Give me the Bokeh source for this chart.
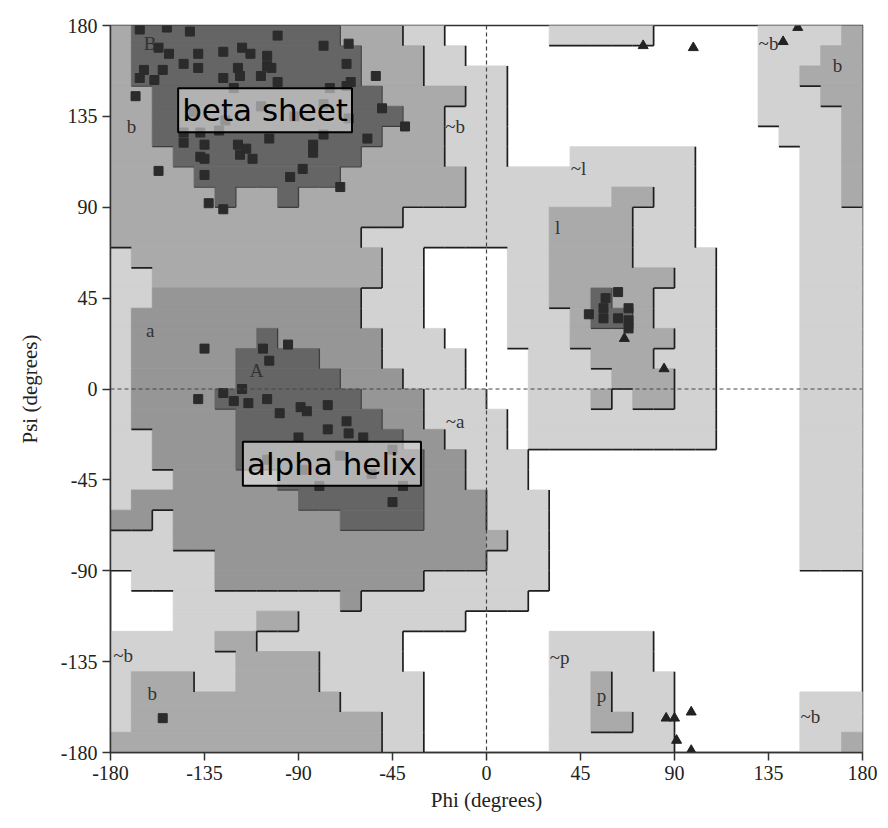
from bokeh.plotting import figure
from bokeh.models import ColumnDataSource, FixedTicker, Range1d, Span, Label
from bokeh.embed import file_html
from bokeh.resources import INLINE
from bokeh.core.properties import value

# ---------------- data ----------------
TICKS = [-180, -135, -90, -45, 0, 45, 90, 135, 180]
TICK_LABELS = ["-180", "-135", "-90", "-45", "0", "45", "90", "135", "180"]
CELL = 10  # grid cell size in degrees

# Region map, 10-degree cells, rows from psi 180 (top) down to psi -180,
# columns from phi -180 to 180. Run-length coded "level:count".
# 0 = disallowed, 1 = generously allowed (~a ~b ~l ~p), 2 = allowed (a b l p), 3 = core (A B L)
REGION_ROWS = [
    "2:1 3:10 2:3 1:2 0:5 1:5 0:5 1:4 2:1",
    "2:1 3:11 2:3 1:2 0:14 1:3 2:2",
    "2:1 3:11 2:3 1:4 0:12 1:2 2:3",
    "2:2 3:11 2:4 1:2 0:12 1:3 2:2",
    "2:2 3:12 2:2 1:3 0:12 1:4 2:1",
    "2:2 3:11 2:3 1:3 0:13 1:3 2:1",
    "2:3 3:9 2:4 1:3 0:3 1:6 0:5 1:2 2:1",
    "2:4 3:7 2:6 1:11 0:5 1:2 2:1",
    "2:5 3:1 2:2 3:1 2:8 1:7 2:2 1:2 0:5 1:2 2:1",
    "2:14 1:7 2:4 1:3 0:5 1:3",
    "2:12 1:9 2:4 1:3 0:5 1:3",
    "1:1 2:12 1:2 0:4 1:2 2:4 1:4 0:4 1:3",
    "1:2 2:11 1:2 0:4 1:2 2:6 1:2 0:4 1:3",
    "1:2 2:10 1:3 0:4 1:2 2:2 3:1 2:2 1:3 0:4 1:3",
    "1:1 2:11 1:3 0:4 1:3 2:1 3:2 2:1 1:3 0:4 1:3",
    "1:1 2:6 3:1 2:5 1:3 0:3 1:3 2:5 1:2 0:4 1:3",
    "1:1 2:5 3:4 2:3 1:4 0:3 1:3 2:3 1:3 0:4 1:3",
    "1:1 2:5 3:5 2:3 1:3 0:3 1:4 2:3 1:2 0:4 1:3",
    "1:1 2:4 3:7 2:3 1:3 0:2 1:3 2:1 1:1 2:2 1:2 0:4 1:3",
    "1:1 2:5 3:7 2:2 1:4 0:1 1:9 0:4 1:3",
    "1:2 2:4 3:8 2:2 1:3 0:1 1:9 0:4 1:3",
    "1:2 2:4 3:9 2:2 1:3 0:13 1:3",
    "1:3 2:5 3:7 2:2 1:3 0:13 1:3",
    "1:1 2:8 3:6 2:3 1:3 0:12 1:3",
    "2:2 1:1 2:8 3:4 2:3 1:3 0:12 1:3",
    "1:3 2:16 1:2 0:12 1:3",
    "1:5 2:13 1:3 0:12 1:3",
    "0:1 1:4 2:10 1:6 0:15",
    "0:3 1:8 2:1 1:8 0:16",
    "0:3 1:4 2:2 1:8 0:19",
    "1:5 2:2 1:7 0:7 1:5 0:10",
    "1:6 2:4 1:4 0:7 1:5 0:10",
    "1:1 2:3 1:2 2:4 1:5 0:6 1:2 2:1 1:3 0:9",
    "1:1 2:10 1:4 0:6 1:2 2:1 1:3 0:6 1:3",
    "1:1 2:12 1:2 0:6 1:2 2:2 1:2 0:6 1:3",
    "2:13 1:2 0:6 1:6 0:6 1:2 2:1",
]

# residues (non-glycine) - squares
RES_PHI = [-166, -153, -142, -100, -78, -66, -157, -152, -138, -126, -117, -113, -105,
           -164, -155, -145, -138, -119, -105, -67, -166, -159, -126, -118, -108, -103,
           -65, -53, -75, -67, -168, -100, -121, -50, -145, -137, -128, -78, -145, -135,
           -119, -104, -83, -57, -137, -118, -112, -83, -157, -135, -94, -88, -70, -133,
           -126, -135, -115, -39,
           -140, -125, -108, -92, -78, -66,
           -135, -107, -95, -104, -117, -138, -126, -121, -114, -105, -99, -89, -86, -76,
           -67, -76, -66, -90, -59, -80, -40, -45,
           -105, -88, -70, -55, -45,
           63, 49, 56, 56, 63, 68, 68, 68, 57,
           -155]
RES_PSI = [178, 179, 177, 175, 170, 171, 169, 166, 166, 167, 169, 166, 165,
           158, 158, 161, 159, 159, 160, 161, 154, 153, 154, 155, 155, 159,
           152, 155, 149, 150, 145, 152, 149, 139, 127, 127, 128, 126, 122, 121,
           121, 124, 121, 124, 115, 116, 114, 117, 108, 106, 105, 109, 100, 92,
           89, 114, 119, 130,
           137, 133, 140, 135, 141, 134,
           20, 20, 22, 14, 0, -5, -2, -6, -7, -5, -12, -9, -11, -8,
           -16, -20, -22, -24, -24, -48, -48, -56,
           -35, -40, -33, -42, -30,
           48, 37, 40, 35, 35, 40, 34, 30, 45,
           -163]

# glycines - triangles
GLY_PHI = [75, 99, 142, 149, 66, 85, 86, 90, 98, 91, 98]
GLY_PSI = [170, 169, 172, 179, 25, 10, -163, -163, -160, -174, -179]

# region letters
REG_TEXT = ["B", "b", "~b", "a", "A", "~a", "~l", "l", "~b", "b", "~b", "b", "~p", "p", "~b"]
REG_PHI = [-161, -170, -15, -161, -110, -15, 44, 34, 135, 168, -174, -160, 35, 55, 155]
REG_PSI = [171, 130, 130, 29, 9, -16, 109, 80, 171, 160, -132, -151, -133, -152, -162]

# call-out boxes
NOTE_TEXT = ["beta sheet", "alpha helix"]
NOTE_PHI = [-106, -74]
NOTE_PSI = [138, -37]

# ---------------- build ----------------
def expand(row):
    out = []
    for tok in row.split():
        lv, n = tok.split(":")
        out += [int(lv)] * int(n)
    return (out + [0] * 36)[:36]

grid = [expand(r) for r in REGION_ROWS]
NR, NC = len(grid), 36


def cell_color(level, i, j):
    if level == 1:
        return "#d2d2d2"
    if level == 3:
        return "#656565"
    psi_top = 180 - CELL * i
    phi_left = -180 + CELL * j
    if phi_left < 0 and psi_top <= 50 and psi_top - CELL >= -110:
        return "#969696"
    return "#aaaaaa"


ql, qr, qt, qb, qc = [], [], [], [], []
for i, row in enumerate(grid):
    j = 0
    while j < NC:
        lv = row[j]
        if lv == 0:
            j += 1
            continue
        c = cell_color(lv, i, j)
        k = j
        while k + 1 < NC and row[k + 1] == lv and cell_color(lv, i, k + 1) == c:
            k += 1
        ql.append(-180 + CELL * j)
        qr.append(-180 + CELL * (k + 1))
        qt.append(180 - CELL * i)
        qb.append(180 - CELL * (i + 1))
        qc.append(c)
        j = k + 1

# shadow edges: right and bottom borders against lower levels
edges = {1: ([], [], [], []), 2: ([], [], [], []), 3: ([], [], [], [])}
for i in range(NR):
    for j in range(NC):
        lv = grid[i][j]
        if lv == 0:
            continue
        left = -180 + CELL * j
        right = left + CELL
        top = 180 - CELL * i
        bottom = top - CELL
        e = edges[lv]
        if j + 1 < NC and grid[i][j + 1] < lv:
            e[0].append(right); e[1].append(bottom); e[2].append(right); e[3].append(top)
        if i + 1 < NR and grid[i + 1][j] < lv:
            e[0].append(left); e[1].append(bottom); e[2].append(right); e[3].append(bottom)

p = figure(width=888, height=828,
           x_range=Range1d(-180, 180), y_range=Range1d(-180, 180),
           output_backend="svg", toolbar_location=None,
           min_border_left=110, min_border_right=26,
           min_border_top=25, min_border_bottom=76)
p.xgrid.visible = False
p.ygrid.visible = False
p.background_fill_color = "white"
p.border_fill_color = "white"
p.outline_line_color = "#333333"
p.outline_line_width = 1.5

p.quad(left=ql, right=qr, top=qt, bottom=qb, fill_color=qc,
       line_color=qc, line_width=0.8)

for lv, (x0, y0, x1, y1) in edges.items():
    if not x0:
        continue
    if lv == 3:
        p.segment(x0=x0, y0=y0, x1=x1, y1=y1, line_color="#3d3d3d", line_width=1.3)
    else:
        p.segment(x0=x0, y0=y0, x1=x1, y1=y1, line_color="#1e1e1e", line_width=1.7)

p.add_layout(Span(location=0, dimension="height", line_color="#444444",
                  line_dash="4 3", line_width=1.2))
p.add_layout(Span(location=0, dimension="width", line_color="#444444",
                  line_dash="4 3", line_width=1.2))

p.text(x=REG_PHI, y=REG_PSI, text=REG_TEXT, text_font=value("Liberation Serif"),
       text_font_size="19px", text_color="#333333", text_align="center",
       text_baseline="middle")

p.scatter(x=RES_PHI, y=RES_PSI, marker="square", size=9, fill_color="#2b2b2b",
          line_color="#2b2b2b")
p.scatter(x=GLY_PHI, y=GLY_PSI, marker="triangle", size=10, fill_color="#222222",
          line_color="#222222")

for t, x, y in zip(NOTE_TEXT, NOTE_PHI, NOTE_PSI):
    p.add_layout(Label(x=x, y=y, text=t, text_font="DejaVu Sans", text_font_size="31px",
                       text_color="black", text_align="center", text_baseline="middle",
                       background_fill_color="white", background_fill_alpha=0.5,
                       border_line_color="black", border_line_width=2, padding=4))

overrides = {t: lab for t, lab in zip(TICKS, TICK_LABELS)}
for ax in (p.xaxis[0], p.yaxis[0]):
    ax.ticker = FixedTicker(ticks=TICKS, minor_ticks=[])
    ax.major_label_overrides = overrides
    ax.major_label_text_font = "Liberation Serif"
    ax.major_label_text_font_size = "20px"
    ax.major_label_text_color = "#222222"
    ax.axis_label_text_font = "Liberation Serif"
    ax.axis_label_text_font_size = "21px"
    ax.axis_label_text_font_style = "normal"
    ax.axis_label_text_color = "#222222"
    ax.major_tick_out = 8
    ax.major_tick_in = 0
    ax.minor_tick_out = 0
    ax.minor_tick_in = 0
    ax.axis_line_color = "#333333"
    ax.axis_line_width = 1.5
    ax.major_tick_line_color = "#333333"
    ax.major_tick_line_width = 1.5

p.xaxis[0].axis_label = "Phi (degrees)"
p.yaxis[0].axis_label = "Psi (degrees)"
p.yaxis[0].axis_label_standoff = 16

open("out.html", "w").write(file_html(p, INLINE))
